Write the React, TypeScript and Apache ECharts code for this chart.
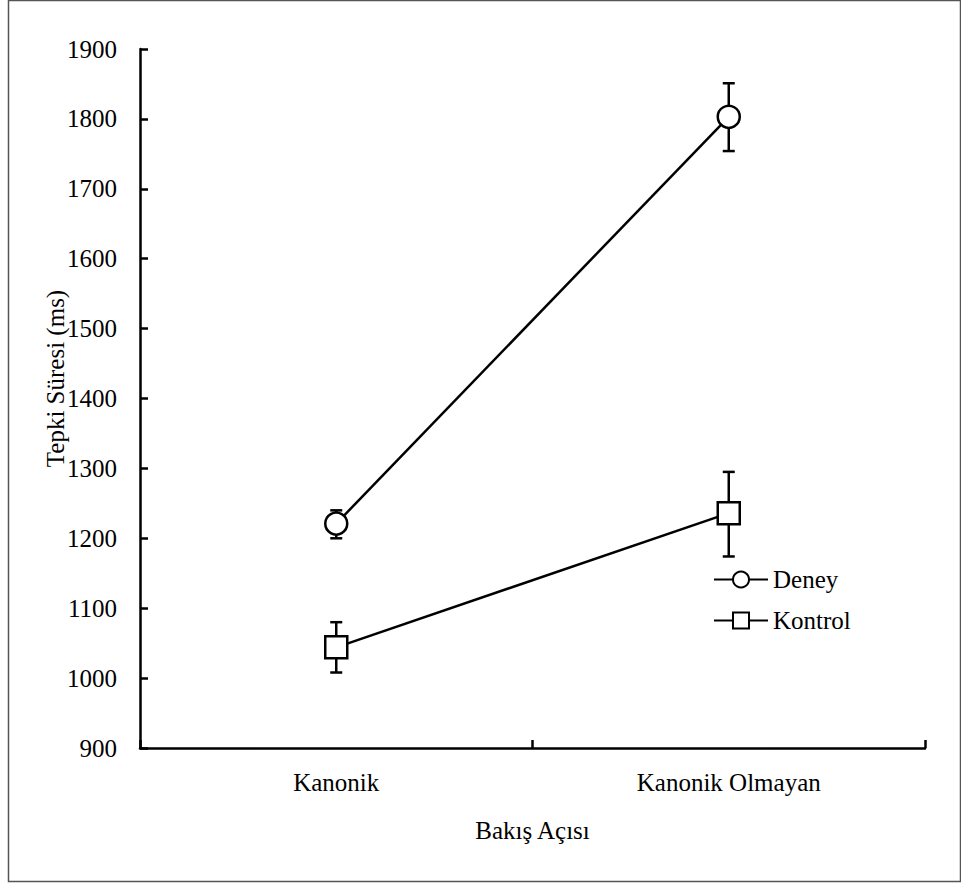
import React, { useEffect, useRef } from "react";
import * as echarts from "echarts";

const categories = ["Kanonik", "Kanonik Olmayan"];
const deneyMeans = [1221, 1803];
const deneyLow = [1200, 1754];
const deneyHigh = [1240, 1851];
const kontrolMeans = [1044, 1236];
const kontrolLow = [1008, 1174];
const kontrolHigh = [1080, 1295];
const yTicks = { min: 900, max: 1900, interval: 100 };

const FONT = "'Liberation Serif', 'Times New Roman', serif";

function errorData(low: number[], high: number[]) {
  return categories.map((_, i) => [i, low[i], high[i]]);
}

function renderError(params: any, api: any) {
  const x = api.value(0);
  const lo = api.coord([x, api.value(1)]);
  const hi = api.coord([x, api.value(2)]);
  const cap = 6;
  const style = { stroke: "#000", lineWidth: 2.5, fill: "none" };
  return {
    type: "group",
    children: [
      { type: "line", shape: { x1: lo[0], y1: lo[1], x2: hi[0], y2: hi[1] }, style },
      { type: "line", shape: { x1: lo[0] - cap, y1: lo[1], x2: lo[0] + cap, y2: lo[1] }, style },
      { type: "line", shape: { x1: hi[0] - cap, y1: hi[1], x2: hi[0] + cap, y2: hi[1] }, style },
    ],
  };
}

export default function App() {
  const ref = useRef<HTMLDivElement>(null);
  useEffect(() => {
    if (!ref.current) return;
    const chart = echarts.init(ref.current, null, { renderer: "svg" });
    chart.setOption({
      animation: false,
      backgroundColor: "#fff",
      textStyle: { fontFamily: FONT },
      graphic: [
        {
          type: "rect",
          shape: { x: 8.5, y: 0.5, width: 952, height: 881 },
          style: { fill: "none", stroke: "#555", lineWidth: 1.5 },
          z: -10,
        },
      ],
      grid: { left: 140, right: 36, top: 49, bottom: 136 },
      legend: {
        orient: "vertical",
        left: 708,
        top: 562,
        itemWidth: 54,
        itemHeight: 20,
        itemGap: 16,
        textStyle: { fontFamily: FONT, fontSize: 25, color: "#000", padding: [0, 0, 0, 0] },
        data: ["Deney", "Kontrol"],
      },
      xAxis: {
        type: "category",
        data: categories,
        boundaryGap: true,
        name: "Bakış Açısı",
        nameLocation: "middle",
        nameGap: 70,
        nameMoveOverlap: false,
        nameTextStyle: { fontFamily: FONT, fontSize: 25, color: "#000" },
        axisLine: { lineStyle: { color: "#000", width: 2.5 } },
        axisTick: { show: true, inside: true, length: 8, lineStyle: { color: "#000", width: 2.5 } },
        axisLabel: { fontFamily: FONT, fontSize: 25, color: "#000", margin: 22 },
        splitLine: { show: false },
      },
      yAxis: {
        type: "value",
        min: yTicks.min,
        max: yTicks.max,
        interval: yTicks.interval,
        name: "Tepki Süresi (ms)",
        nameLocation: "middle",
        nameGap: 72,
        nameMoveOverlap: false,
        nameTextStyle: { fontFamily: FONT, fontSize: 25, color: "#000", padding: [0, 0, 0, 40] },
        axisLine: { show: true, lineStyle: { color: "#000", width: 2.5 } },
        axisTick: { show: true, inside: true, length: 8, lineStyle: { color: "#000", width: 2.5 } },
        axisLabel: {
          fontFamily: FONT,
          fontSize: 25,
          color: "#000",
          margin: 23,
          formatter: (v: number) => String(v),
        },
        splitLine: { show: false },
      },
      series: [
        {
          type: "custom",
          name: "DeneyErr",
          renderItem: renderError,
          data: errorData(deneyLow, deneyHigh),
          encode: { x: 0, y: [1, 2] },
          z: 1,
          silent: true,
        },
        {
          type: "custom",
          name: "KontrolErr",
          renderItem: renderError,
          data: errorData(kontrolLow, kontrolHigh),
          encode: { x: 0, y: [1, 2] },
          z: 1,
          silent: true,
        },
        {
          type: "line",
          name: "Deney",
          data: deneyMeans,
          symbol: "circle",
          symbolSize: 22,
          lineStyle: { color: "#000", width: 2.5 },
          itemStyle: { color: "#fff", borderColor: "#000", borderWidth: 2.5 },
          z: 3,
        },
        {
          type: "line",
          name: "Kontrol",
          data: kontrolMeans,
          symbol: "rect",
          symbolSize: 22,
          lineStyle: { color: "#000", width: 2.5 },
          itemStyle: { color: "#fff", borderColor: "#000", borderWidth: 2.5 },
          z: 3,
        },
      ],
    });
    return () => chart.dispose();
  }, []);
  return (
    <div
      ref={ref}
      style={{ position: "absolute", left: 0, top: 0, width: 961, height: 884 }}
    />
  );
}
